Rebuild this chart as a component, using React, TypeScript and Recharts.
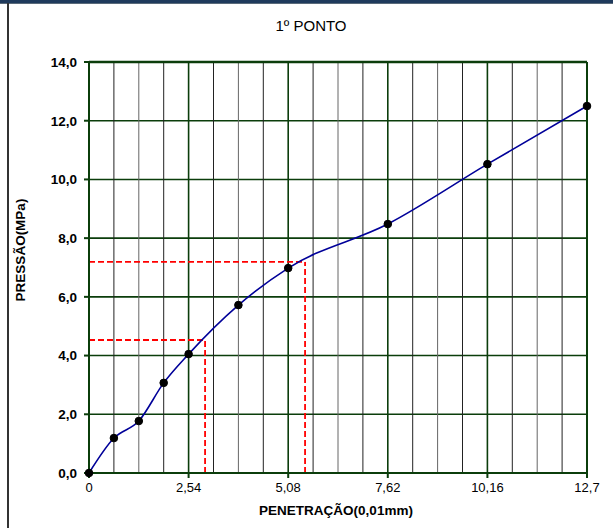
import React from 'react';
import { LineChart, Line, XAxis, YAxis, CartesianGrid, ReferenceLine } from 'recharts';

const penetration = [0, 0.635, 1.27, 1.905, 2.54, 3.81, 5.08, 7.62, 10.16, 12.7];
const pressure = [0, 1.19, 1.77, 3.07, 4.05, 5.72, 6.98, 8.48, 10.52, 12.5];
const xTicks = [0, 2.54, 5.08, 7.62, 10.16, 12.7];
const xTickLabels = ['0', '2,54', '5,08', '7,62', '10,16', '12,7'];
const yTicks = [0, 2, 4, 6, 8, 10, 12, 14];
const minorX = [0.635, 1.27, 1.905, 3.175, 3.81, 4.445, 5.715, 6.35, 6.985, 8.255, 8.89, 9.525, 10.795, 11.43, 12.065];
// dashed red reading lines: [x, y]
const readings = [
  { x: 2.96, y: 4.53 },
  { x: 5.51, y: 7.19 },
];

const data = penetration.map((x, i) => ({ x, y: pressure[i] }));

const GREEN = '#0b3d0b';
const FONT = 'Arial, "Liberation Sans", sans-serif';

export default function App() {
  return (
    <div style={{ position: 'absolute', left: 0, top: 0, width: 613, height: 528, background: '#fff', fontFamily: FONT }}>
      <div style={{ position: 'absolute', left: 0, top: 0, width: 613, height: 3, background: '#1f3a5c' }} />
      <div style={{ position: 'absolute', left: 0, top: 3, width: 613, height: 1, background: '#5a6a7a' }} />
      <div style={{ position: 'absolute', left: 7, top: 3, width: 2, height: 525, background: '#333' }} />
      <div style={{ position: 'absolute', left: 0, width: 622, top: 17, textAlign: 'center', fontSize: 15, color: '#000' }}>1º PONTO</div>
      <div style={{ position: 'absolute', left: 20, top: 250, width: 0, height: 0 }}>
        <div style={{ position: 'absolute', transform: 'translate(-50%, -50%) rotate(-90deg)', whiteSpace: 'nowrap', fontSize: 13.5, fontWeight: 'bold' }}>PRESSÃO(MPa)</div>
      </div>
      <div style={{ position: 'absolute', left: 336, top: 510, width: 0, height: 0 }}>
        <div style={{ position: 'absolute', transform: 'translate(-50%, -50%)', whiteSpace: 'nowrap', fontSize: 13.5, fontWeight: 'bold' }}>PENETRAÇÃO(0,01mm)</div>
      </div>
      <div style={{ position: 'absolute', left: 0, top: 0 }}>
        <LineChart width={613} height={528} data={data} margin={{ top: 62, right: 26, left: 39, bottom: 25 }}>
          {minorX.map((v, i) => (
            <ReferenceLine key={'m' + v} x={v} stroke={i % 3 === 1 ? '#666' : '#222'} strokeWidth={1} />
          ))}
          <CartesianGrid stroke={GREEN} strokeWidth={1.6} vertical={true} horizontal={true}
            verticalValues={xTicks} horizontalValues={yTicks} />
          <ReferenceLine y={14} stroke={GREEN} strokeWidth={2.5} />
          <ReferenceLine x={12.7} stroke={GREEN} strokeWidth={2} />
          <XAxis type="number" dataKey="x" domain={[0, 12.7]} ticks={xTicks}
            tickFormatter={(v) => xTickLabels[xTicks.indexOf(v)] ?? String(v)}
            stroke={GREEN} strokeWidth={2} tickSize={5} tickMargin={5} height={30}
            tick={{ fill: '#000', fontSize: 13, fontFamily: FONT }} interval={0} />
          <YAxis type="number" domain={[0, 14]} ticks={yTicks}
            tickFormatter={(v) => v.toFixed(1).replace('.', ',')}
            stroke={GREEN} strokeWidth={2} tickSize={5} tickMargin={7} width={50}
            tick={{ fill: '#000', fontSize: 13.5, fontWeight: 'bold', fontFamily: FONT }} interval={0} />
          {readings.map((r) => (
            <ReferenceLine key={'h' + r.y} segment={[{ x: 0, y: r.y }, { x: r.x, y: r.y }]}
              stroke="#ff0000" strokeWidth={1.8} strokeDasharray="6 3" />
          ))}
          {readings.map((r) => (
            <ReferenceLine key={'v' + r.x} segment={[{ x: r.x, y: 0 }, { x: r.x, y: r.y }]}
              stroke="#ff0000" strokeWidth={1.8} strokeDasharray="6 3" />
          ))}
          <Line type="monotone" dataKey="y" stroke="#000099" strokeWidth={1.6}
            dot={{ r: 3.8, fill: '#000', stroke: '#000', strokeWidth: 1 }} isAnimationActive={false} />
        </LineChart>
      </div>
    </div>
  );
}
